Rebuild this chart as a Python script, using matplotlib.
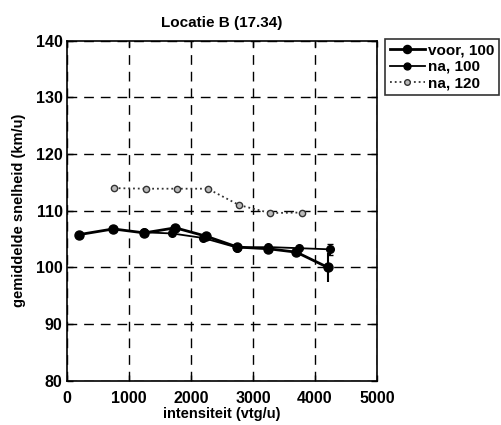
import matplotlib
matplotlib.use("Agg")
import matplotlib.pyplot as plt

plt.rcParams['font.family'] = ['Liberation Sans', 'DejaVu Sans']
plt.rcParams['font.weight'] = 'bold'

voor_x = [200, 750, 1250, 1750, 2250, 2750, 3250, 3700, 4210]
voor_y = [105.8, 106.8, 106.1, 107.0, 105.5, 103.6, 103.3, 102.7, 100.0]
voor_err_last = 2.5

na100_x = [1250, 1700, 2200, 2750, 3250, 3750, 4240]
na100_y = [106.2, 106.0, 105.2, 103.5, 103.6, 103.4, 103.2]
na100_err_last = 1.0

na120_x = [760, 1270, 1770, 2270, 2780, 3280, 3790]
na120_y = [114.0, 113.9, 113.9, 113.9, 111.0, 109.6, 109.7]

title = "Locatie B (17.34)"
xlabel = "intensiteit (vtg/u)"
ylabel = "gemiddelde snelheid (km/u)"
xticks = [0, 1000, 2000, 3000, 4000, 5000]
yticks = [80, 90, 100, 110, 120, 130, 140]

fig = plt.figure(figsize=(5.02, 4.25), dpi=100)
ax = fig.add_axes([0.133, 0.104, 0.618, 0.800])

l1, = ax.plot(voor_x, voor_y, '-', color='black', lw=2.0, marker='o', ms=6.5, label='voor, 100')
ax.errorbar([voor_x[-1]], [voor_y[-1]], yerr=[voor_err_last], fmt='none', ecolor='black', lw=1.5, capsize=0)
l2, = ax.plot(na100_x, na100_y, '-', color='black', lw=1.3, marker='o', ms=5.5, label='na, 100')
ax.errorbar([na100_x[-1]], [na100_y[-1]], yerr=[na100_err_last], fmt='none', ecolor='black', lw=1.5, capsize=2)
l3, = ax.plot(na120_x, na120_y, ':', color='#333333', lw=1.3, marker='o', ms=4.5,
              markerfacecolor='#bbbbbb', markeredgecolor='#333333', label='na, 120')

ax.set_xlim(0, 5000)
ax.set_ylim(80, 140)
ax.set_xticks(xticks)
ax.set_yticks(yticks)
ax.grid(True, linestyle=(0, (7, 5)), color='black', lw=1.0)
ax.tick_params(direction='in', top=True, right=True, length=4, width=1, labelsize=11.5)
ax.tick_params(axis='x', pad=7)
ax.tick_params(axis='y', pad=3)
for s in ax.spines.values():
    s.set_linewidth(1.2)
ax.set_title(title, fontsize=11, fontweight='bold', pad=10)
ax.set_xlabel(xlabel, fontsize=10.5, fontweight='bold', labelpad=1)
ax.set_ylabel(ylabel, fontsize=10.5, fontweight='bold', labelpad=7)

leg = fig.legend(handles=[l1, l2, l3], loc='upper left', bbox_to_anchor=(0.767, 0.908),
                 fontsize=11, frameon=True, fancybox=False, edgecolor='black',
                 handlelength=2.3, handletextpad=0.2, borderpad=0.3, labelspacing=0.15,
                 borderaxespad=0, markerscale=0.9)
leg.get_frame().set_linewidth(1.2)
for t in leg.get_texts():
    t.set_fontweight('bold')

fig.savefig('out.png', dpi=100)
